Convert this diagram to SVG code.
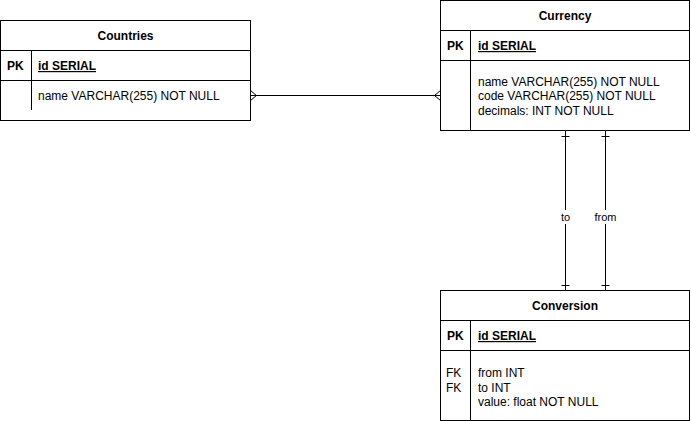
<svg xmlns="http://www.w3.org/2000/svg" width="691" height="421" viewBox="0 0 691 421">
<style>
.box{fill:#fff;stroke:#000;stroke-width:1}
.ln{stroke:#000;stroke-width:1;fill:none}
text{font-family:"Liberation Sans",Arial,Helvetica,sans-serif;font-size:12px;fill:#000}
.h{font-weight:bold;text-anchor:middle}
.b{font-weight:bold}
.u{font-weight:bold;text-decoration:underline}
.lbl{font-size:11px;text-anchor:middle}
</style>
<rect width="691" height="421" fill="#fff"/>
<g id="connectors">
<path class="ln" d="M250.5 95.5 H440.5"/>
<path class="ln" d="M250.5 90.5 L256.5 95.5 L250.5 100.5"/>
<path class="ln" d="M440.5 90.5 L434.5 95.5 L440.5 100.5"/>
<path class="ln" d="M565.5 130 V290"/>
<path class="ln" d="M561.5 136.5 H569.5 M561.5 285.5 H569.5"/>
<path class="ln" d="M605.5 130 V290"/>
<path class="ln" d="M601.5 136.5 H609.5 M601.5 285.5 H609.5"/>
<rect x="557" y="210" width="17" height="14" fill="#fff"/>
<text class="lbl" x="565.5" y="221">to</text>
<rect x="593" y="210" width="25" height="14" fill="#fff"/>
<text class="lbl" x="605.5" y="221">from</text>
</g>
<g id="countries">
<rect class="box" x="0.5" y="20.5" width="250" height="100"/>
<path class="ln" d="M0.5 50.5 H250.5 M0.5 80.5 H250.5 M31.5 50.5 V110"/>
<text class="h" x="125.5" y="40">Countries</text>
<text class="b" x="7" y="70">PK</text>
<text class="u" x="38" y="70">id SERIAL</text>
<text x="38" y="100">name VARCHAR(255) NOT NULL</text>
</g>
<g id="currency">
<rect class="box" x="440.5" y="0.5" width="249" height="130"/>
<path class="ln" d="M440.5 30.5 H689.5 M440.5 60.5 H689.5 M470.5 30.5 V130.5"/>
<text class="h" x="565" y="20">Currency</text>
<text class="b" x="447" y="50">PK</text>
<text class="u" x="478" y="50">id SERIAL</text>
<text x="478" y="85.5">name VARCHAR(255) NOT NULL</text>
<text x="478" y="100">code VARCHAR(255) NOT NULL</text>
<text x="478" y="114.5">decimals: INT NOT NULL</text>
</g>
<g id="conversion">
<rect class="box" x="440.5" y="290.5" width="249" height="130"/>
<path class="ln" d="M440.5 320.5 H689.5 M440.5 350.5 H689.5 M470.5 320.5 V420.5"/>
<text class="h" x="565" y="310">Conversion</text>
<text class="b" x="447" y="340">PK</text>
<text class="u" x="478" y="340">id SERIAL</text>
<text x="446" y="377">FK</text>
<text x="446" y="391.5">FK</text>
<text x="478" y="377">from INT</text>
<text x="478" y="391.5">to INT</text>
<text x="478" y="406">value: float NOT NULL</text>
</g>
</svg>
